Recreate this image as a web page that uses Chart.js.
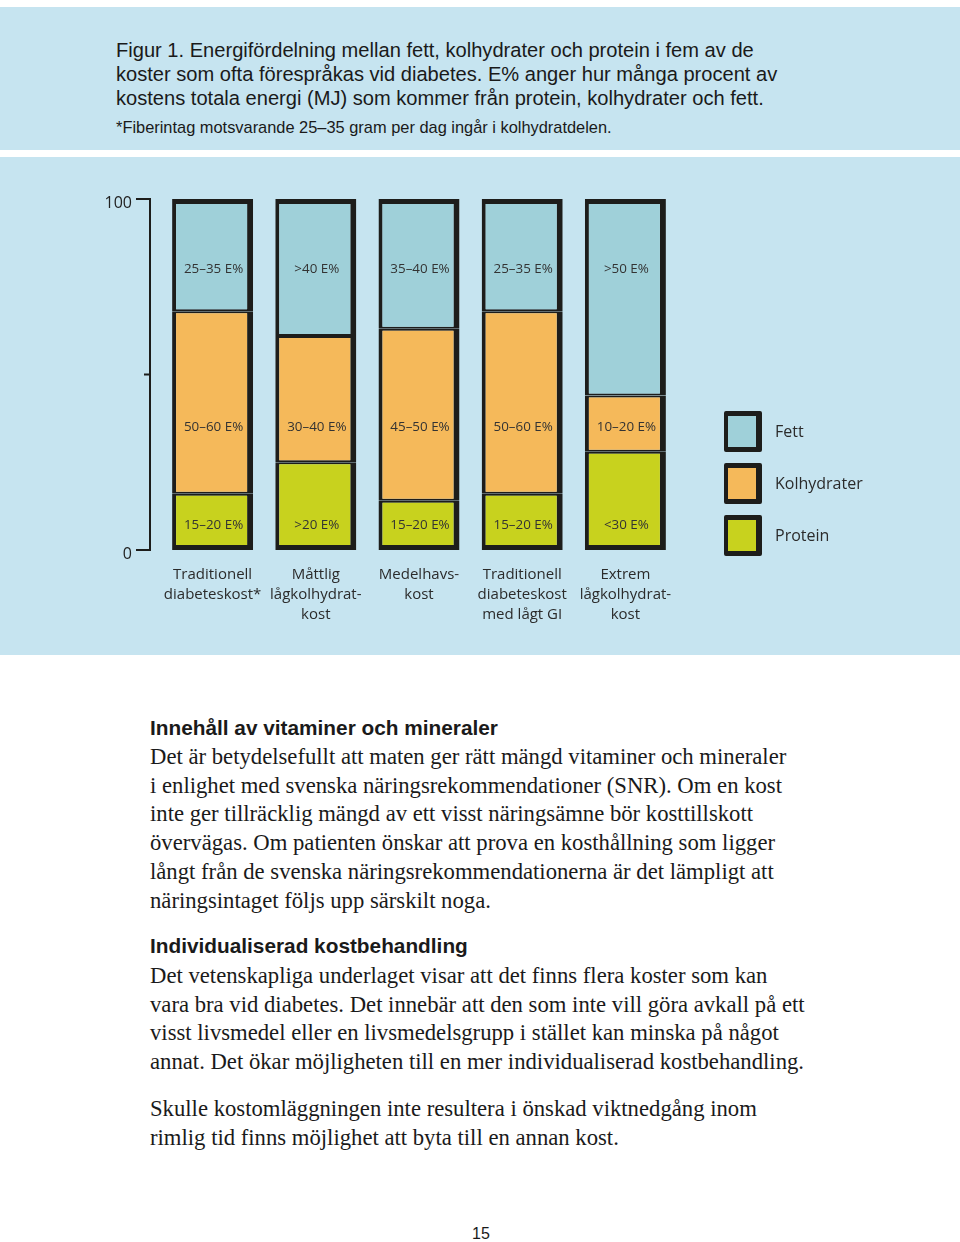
<!DOCTYPE html>
<html lang="sv">
<head>
<meta charset="utf-8">
<title>Figur 1. Energifördelning</title>
<script src="https://cdn.jsdelivr.net/npm/chart.js@4.4.0/dist/chart.umd.min.js"></script>
<style>
  html, body { margin: 0; padding: 0; background: #fff; }
  body { width: 960px; height: 1242px; position: relative; overflow: hidden; color: #1a1a1a; }
  .band { position: absolute; left: 0; width: 960px; background: #c6e4f0; }
  .cap { position: absolute; left: 116px; margin: 0; font-family: "Liberation Sans", Arial, sans-serif; white-space: nowrap; }
  .cap.main { top: 38px; font-size: 20.1px; line-height: 24px; }
  .cap.note { top: 118px; font-size: 16.4px; line-height: 19px; }
  #dietChart { position: absolute; left: 0; top: 157px; }
  #legend { position: absolute; left: 724px; top: 411px; font-family: "Open Sans", sans-serif; font-size: 16px; color: #2b2b2b; }
  #legend .item { position: relative; height: 52px; }
  #legend .box { position: absolute; left: 0; top: 0; width: 28px; height: 31px; border: 5px solid #1d1d1b; border-left-width: 4px; border-right-width: 6px; border-radius: 2px; }
  #legend .txt { position: absolute; left: 51px; top: 9px; white-space: nowrap; }
  h3 { position: absolute; left: 150px; margin: 0; font-family: "Liberation Sans", Arial, sans-serif; font-size: 20.8px; line-height: 24px; font-weight: bold; }
  .body { position: absolute; left: 150px; margin: 0; font-family: "Liberation Serif", "Times New Roman", serif; font-size: 22.7px; line-height: 28.7px; white-space: nowrap; }
  .pagenr { position: absolute; left: 0; width: 962px; top: 1225px; text-align: center; font-family: "Liberation Sans", Arial, sans-serif; font-size: 16px; line-height: 18px; }
</style>
</head>
<body>
<div class="band" style="top:7px;height:143px;"></div>
<div class="band" style="top:157px;height:498px;"></div>

<p class="cap main">Figur 1. Energifördelning mellan fett, kolhydrater och protein i fem av de<br>koster som ofta förespråkas vid diabetes. E% anger hur många procent av<br>kostens totala energi (MJ) som kommer från protein, kolhydrater och fett.</p>
<p class="cap note">*Fiberintag motsvarande 25–35 gram per dag ingår i kolhydratdelen.</p>

<canvas id="dietChart" width="960" height="498"></canvas>
<div id="legend"></div>

<h3 style="top:716px;">Innehåll av vitaminer och mineraler</h3>
<p class="body" style="top:743px;">Det är betydelsefullt att maten ger rätt mängd vitaminer och mineraler<br>i enlighet med svenska näringsrekommendationer (SNR). Om en kost<br>inte ger tillräcklig mängd av ett visst näringsämne bör kosttillskott<br>övervägas. Om patienten önskar att prova en kosthållning som ligger<br>långt från de svenska näringsrekommendationerna är det lämpligt att<br>näringsintaget följs upp särskilt noga.</p>

<h3 style="top:934px;">Individualiserad kostbehandling</h3>
<p class="body" style="top:962px;">Det vetenskapliga underlaget visar att det finns flera koster som kan<br>vara bra vid diabetes. Det innebär att den som inte vill göra avkall på ett<br>visst livsmedel eller en livsmedelsgrupp i stället kan minska på något<br>annat. Det ökar möjligheten till en mer individualiserad kostbehandling.</p>

<p class="body" style="top:1095px;">Skulle kostomläggningen inte resultera i önskad viktnedgång inom<br>rimlig tid finns möjlighet att byta till en annan kost.</p>

<div class="pagenr">15</div>

<script>
// diets along the x axis
const diets = [
    ['Traditionell', 'diabeteskost*'],
    ['Måttlig', 'lågkolhydrat-', 'kost'],
    ['Medelhavs-', 'kost'],
    ['Traditionell', 'diabeteskost', 'med lågt GI'],
    ['Extrem', 'lågkolhydrat-', 'kost']
];

// share of energy, %
const protein = [16, 25, 14, 16, 28];
const kolhydrater = [52, 36, 49, 52, 16];
const fett = [32, 39, 37, 32, 56];

// text printed inside each segment
const proteinRange = ['15–20 E%', '>20 E%', '15–20 E%', '15–20 E%', '<30 E%'];
const kolhydratRange = ['50–60 E%', '30–40 E%', '45–50 E%', '50–60 E%', '10–20 E%'];
const fettRange = ['25–35 E%', '>40 E%', '35–40 E%', '25–35 E%', '>50 E%'];

const yTicks = [0, 50, 100];

const INK = '#1d1d1b';
const chartFont = '"Open Sans", "Noto Sans", sans-serif';

// segment texts sit on fixed rows, not in the middle of each segment
const rangeLabels = {
    id: 'rangeLabels',
    afterDatasetsDraw(chart) {
        const ctx = chart.ctx;
        const yScale = chart.scales.y;
        ctx.save();
        ctx.font = '13.4px ' + chartFont;
        ctx.fillStyle = '#333333';
        ctx.textAlign = 'center';
        ctx.textBaseline = 'middle';
        chart.data.datasets.forEach((ds, i) => {
            chart.getDatasetMeta(i).data.forEach((bar, j) => {
                ctx.fillText(ds.ranges[j], bar.x + 1, yScale.getPixelForValue(ds.labelRow));
            });
        });
        ctx.restore();
    }
};

// bracket shaped y axis a little left of the plot
const bracketAxis = {
    id: 'bracketAxis',
    afterDraw(chart) {
        const ctx = chart.ctx;
        const yScale = chart.scales.y;
        const x0 = chart.chartArea.left - 11;
        const top = yScale.getPixelForValue(yTicks[2]);
        const mid = yScale.getPixelForValue(yTicks[1]);
        const bottom = yScale.getPixelForValue(yTicks[0]);
        ctx.save();
        ctx.strokeStyle = INK;
        ctx.lineWidth = 2;
        ctx.beginPath();
        ctx.moveTo(x0 - 14, top);
        ctx.lineTo(x0, top);
        ctx.lineTo(x0, bottom);
        ctx.lineTo(x0 - 14, bottom);
        ctx.moveTo(x0 - 6, mid);
        ctx.lineTo(x0, mid);
        ctx.stroke();
        ctx.restore();
    }
};

const dietChart = new Chart(document.getElementById('dietChart'), {
    type: 'bar',
    data: {
        labels: diets,
        datasets: [{
            label: 'Protein',
            data: protein,
            ranges: proteinRange,
            labelRow: 7,
            backgroundColor: '#c8d21e',
            borderWidth: { left: 4, right: 6, top: 2, bottom: 5 }
        }, {
            label: 'Kolhydrater',
            data: kolhydrater,
            ranges: kolhydratRange,
            labelRow: 35,
            backgroundColor: '#f5b95a',
            borderWidth: { left: 4, right: 6, top: 2, bottom: 2 }
        }, {
            label: 'Fett',
            data: fett,
            ranges: fettRange,
            labelRow: 80,
            backgroundColor: '#9fd0d9',
            borderWidth: { left: 4, right: 6, top: 5, bottom: 2 }
        }]
    },
    options: {
        responsive: false,
        animation: false,
        layout: { padding: { top: 42, right: 283, bottom: 0, left: 0 } },
        datasets: {
            bar: {
                borderColor: INK,
                borderSkipped: false,
                categoryPercentage: 1,
                barPercentage: 0.785
            }
        },
        plugins: {
            legend: { display: false },
            tooltip: { enabled: false }
        },
        scales: {
            x: {
                stacked: true,
                grid: { display: false },
                border: { display: false },
                ticks: {
                    padding: 7,
                    color: '#2b2b2b',
                    font: { family: chartFont, size: 15, lineHeight: 20 / 15 },
                    maxRotation: 0,
                    autoSkip: false
                },
                afterFit(scale) { scale.height = 105; }
            },
            y: {
                stacked: true,
                min: 0,
                max: 100,
                grid: { display: false },
                border: { display: false },
                afterBuildTicks(scale) { scale.ticks = yTicks.map(v => ({ value: v })); },
                ticks: {
                    padding: 21,
                    labelOffset: 4,
                    color: '#222222',
                    font: { family: chartFont, size: 16 },
                    callback: v => (v === 50 ? '' : v)
                },
                afterFit(scale) { scale.width = 161; }
            }
        }
    },
    plugins: [rangeLabels, bracketAxis]
});

// legend built from the datasets, top item is Fett
const legendEl = document.getElementById('legend');
dietChart.data.datasets.slice().reverse().forEach(ds => {
    const item = document.createElement('div');
    item.className = 'item';
    const box = document.createElement('div');
    box.className = 'box';
    box.style.background = ds.backgroundColor;
    const txt = document.createElement('div');
    txt.className = 'txt';
    txt.textContent = ds.label;
    item.appendChild(box);
    item.appendChild(txt);
    legendEl.appendChild(item);
});
</script>
</body>
</html>
